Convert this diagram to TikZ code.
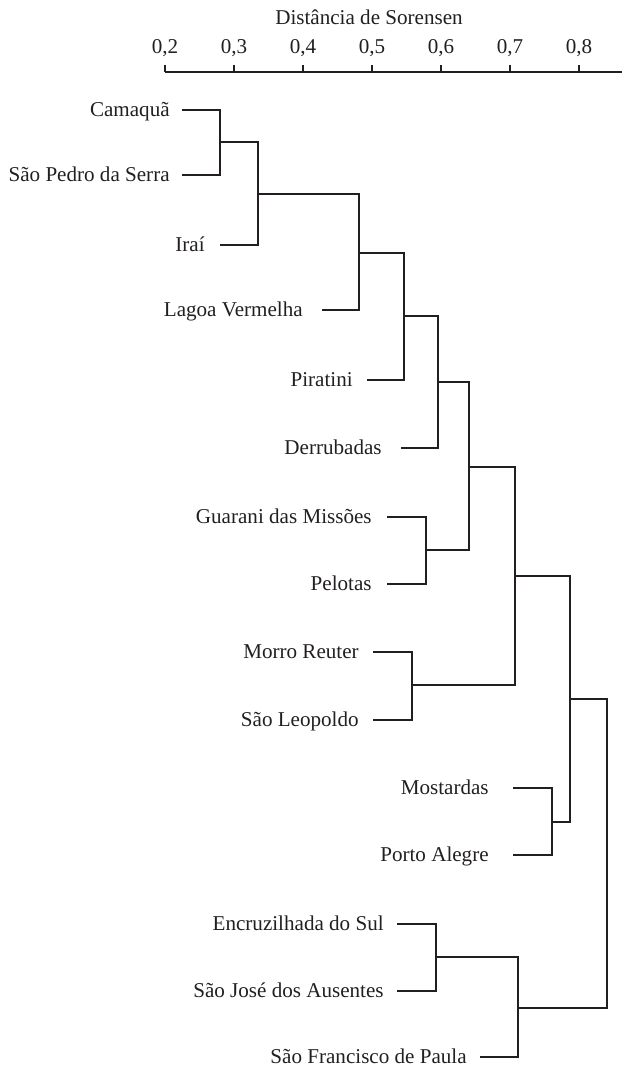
\documentclass[tikz,border=0pt]{standalone}
\usepackage{fontspec}
\setmainfont{Liberation Serif}
\usepackage{xcolor}
\usepackage{tikz}
\usetikzlibrary{positioning,calc}

\definecolor{ink}{HTML}{231F20}

\begin{document}
\begin{tikzpicture}[
    x=0.2mm, y=-0.2mm,
    leaf/.style={anchor=east, inner sep=0pt, text height=7.9pt, text depth=0pt, font=\fontsize{12}{14}\selectfont, text=ink},
    ticklabel/.style={anchor=base, inner sep=0pt, font=\fontsize{12}{14}\selectfont, text=ink},
    branch/.style={draw=ink, line width=0.6pt}
]
    \useasboundingbox (0,0) rectangle (622,1068);

    % Axis
    \node[ticklabel] (title) at (369,25) {Distância de Sorensen};
    \draw[branch] (165,72) -- (622,72);
    \foreach \i in {2,...,8} {
        \draw[branch] ({165+(\i-2)*69},65) -- ({165+(\i-2)*69},72);
        \node[ticklabel] (t\i) at ({165+(\i-2)*69},54) {0,\i};
    }

    % Leaves
    \node[leaf] (cam) at (170,110) {Camaquã};
    \node[leaf] (sps) at (170,175) {São Pedro da Serra};
    \node[leaf] (ira) at (205,245) {Iraí};
    \node[leaf] (lv) at (303,310) {Lagoa Vermelha};
    \node[leaf] (pir) at (353,380) {Piratini};
    \node[leaf] (der) at (382,448) {Derrubadas};
    \node[leaf] (gm) at (372,517) {Guarani das Missões};
    \node[leaf] (pel) at (372,584) {Pelotas};
    \node[leaf] (mr) at (359,652) {Morro Reuter};
    \node[leaf] (sl) at (359,720) {São Leopoldo};
    \node[leaf] (mos) at (489,788) {Mostardas};
    \node[leaf] (pa) at (489,855) {Porto Alegre};
    \node[leaf] (es) at (384,924) {Encruzilhada do Sul};
    \node[leaf] (sja) at (384,991) {São José dos Ausentes};
    \node[leaf] (sfp) at (467,1057) {São Francisco de Paula};

    % Merge points
    \coordinate (c1) at (220,142);
    \coordinate (c2) at (258,194);
    \coordinate (c3) at (359,253);
    \coordinate (c4) at (404,316);
    \coordinate (c5) at (438,382);
    \coordinate (c6) at (426,550);
    \coordinate (c7) at (469,467);
    \coordinate (c8) at (412,685);
    \coordinate (c9) at (515,576);
    \coordinate (c10) at (552,822);
    \coordinate (c11) at (570,699);
    \coordinate (c12) at (436,957);
    \coordinate (c13) at (518,1008);
    \coordinate (c14) at (607,853);

    % Branches from leaves
    \draw[branch] (cam.east) ++(12,0) -| (c1);
    \draw[branch] (sps.east) ++(12,0) -| (c1);
    \draw[branch] (ira.east) ++(15,0) -| (c2);
    \draw[branch] (lv.east) ++(19,0) -| (c3);
    \draw[branch] (pir.east) ++(14,0) -| (c4);
    \draw[branch] (der.east) ++(19,0) -| (c5);
    \draw[branch] (gm.east) ++(15,0) -| (c6);
    \draw[branch] (pel.east) ++(15,0) -| (c6);
    \draw[branch] (mr.east) ++(14,0) -| (c8);
    \draw[branch] (sl.east) ++(14,0) -| (c8);
    \draw[branch] (mos.east) ++(24,0) -| (c10);
    \draw[branch] (pa.east) ++(24,0) -| (c10);
    \draw[branch] (es.east) ++(13,0) -| (c12);
    \draw[branch] (sja.east) ++(13,0) -| (c12);
    \draw[branch] (sfp.east) ++(13,0) -| (c13);

    % Branches between clusters
    \draw[branch] (c1) -| (c2);
    \draw[branch] (c2) -| (c3);
    \draw[branch] (c3) -| (c4);
    \draw[branch] (c4) -| (c5);
    \draw[branch] (c5) -| (c7);
    \draw[branch] (c6) -| (c7);
    \draw[branch] (c7) -| (c9);
    \draw[branch] (c8) -| (c9);
    \draw[branch] (c9) -| (c11);
    \draw[branch] (c10) -| (c11);
    \draw[branch] (c11) -| (c14);
    \draw[branch] (c12) -| (c13);
    \draw[branch] (c13) -| (c14);
\end{tikzpicture}
\end{document}
